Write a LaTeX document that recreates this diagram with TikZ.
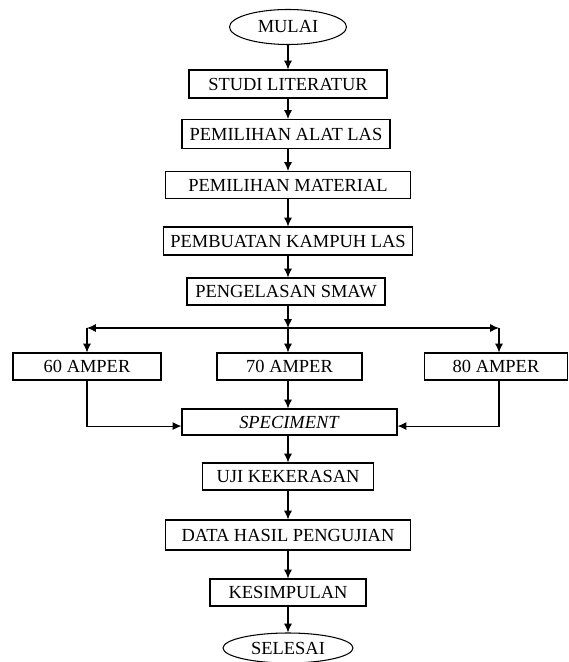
\documentclass[tikz,border=0pt]{standalone}
\usepackage{fontspec}
\setmainfont{Liberation Serif}
\usepackage{tikz}
\usetikzlibrary{
  arrows.meta,
  shapes.geometric,
}
\tikzstyle{arrow} = [
  -{Latex[length=5pt,width=4.5pt]},
  line width=0.6pt,
]

\begin{document}
\begin{tikzpicture}[x=0.02cm, y=-0.02cm,
                    box/.style={draw, line width=0.6pt, minimum height=0.54cm,
                                inner sep=0pt, font=\fontsize{10.5}{12}\selectfont},
                    term/.style={box, ellipse}]
      \useasboundingbox (0,0) rectangle (568,662);

      \node [term, minimum width=2.34cm, minimum height=0.7cm] (mulai) at (288,27) {MULAI};
      \node [box, minimum width=3.96cm, minimum height=0.56cm] (studi) at (288,84) {STUDI LITERATUR};
      \node [box, minimum width=4.16cm, minimum height=0.58cm] (alat) at (286,134) {PEMILIHAN ALAT LAS};
      \node [box, minimum width=4.9cm] (material) at (288,185) {PEMILIHAN MATERIAL};
      \node [box, minimum width=4.98cm, minimum height=0.56cm] (kampuh) at (288,241) {PEMBUATAN KAMPUH LAS};
      \node [box, minimum width=3.96cm] (smaw) at (286,291.5) {PENGELASAN SMAW};

      \coordinate (split) at (288,328);
      \coordinate (splitl) at (87,328);
      \coordinate (splitr) at (499,328);

      \node [box, minimum width=2.96cm] (a60) at (87,366.5) {60 AMPER};
      \node [box, minimum width=2.9cm] (a70) at (289.5,366.5) {70 AMPER};
      \node [box, minimum width=2.86cm] (a80) at (496,366.5) {80 AMPER};

      \node [box, minimum width=4.3cm, minimum height=0.52cm] (spec) at (289.5,422) {\textit{SPECIMENT}};
      \node [box, minimum width=3.42cm] (uji) at (288,476.5) {UJI KEKERASAN};
      \node [box, minimum width=4.9cm, minimum height=0.6cm] (data) at (288,535) {DATA HASIL PENGUJIAN};
      \node [box, minimum width=3.12cm] (simpul) at (288,592.5) {KESIMPULAN};
      \node [term, minimum width=2.6cm, minimum height=0.6cm] (selesai) at (288,648) {SELESAI};

      % main flow
      \draw [arrow] (mulai) -- (studi);
      \draw [arrow] (studi) -- (studi |- alat.north);
      \draw [arrow] (studi |- alat.south) -- (studi |- material.north);
      \draw [arrow] (material) -- (kampuh);
      \draw [arrow] (kampuh) -- (kampuh |- smaw.north);
      \draw [arrow] (kampuh |- smaw.south) -- (split);

      % branches
      \draw [arrow] (split) -- (splitl);
      \draw [arrow] (split) -- (splitr);
      \draw [arrow] (splitl) -- (a60);
      \draw [arrow] (splitr) -- (splitr |- a80.north);
      \draw [arrow] (split) -- (split |- a70.north);

      \draw [arrow] (a60) |- ([yshift=-2.3pt]spec.west);
      \draw [arrow] (splitr |- a80.south) |- ([yshift=-2.3pt]spec.east);
      \draw [arrow] (split |- a70.south) -- (split |- spec.north);

      \draw [arrow] (split |- spec.south) -- (uji);
      \draw [arrow] (uji) -- (data);
      \draw [arrow] (data) -- (simpul);
      \draw [arrow] (simpul) -- (selesai);
\end{tikzpicture}
\end{document}
